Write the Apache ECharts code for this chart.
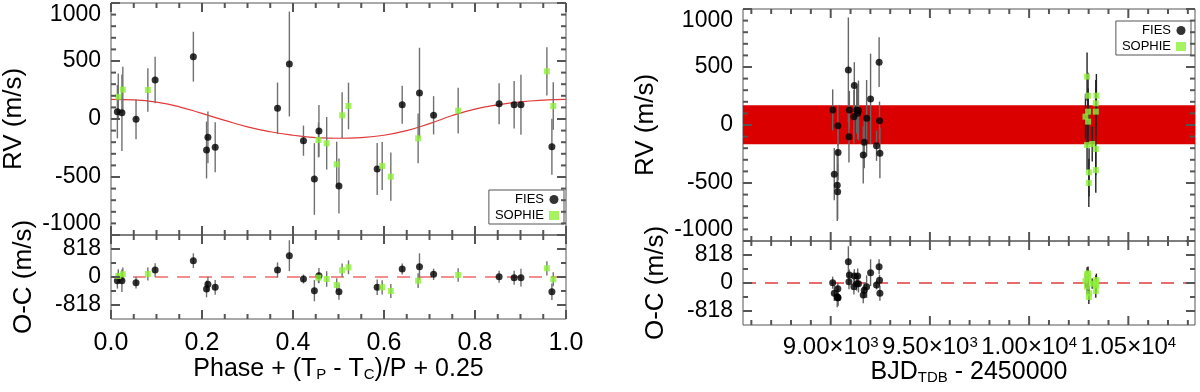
<!DOCTYPE html>
<html>
<head>
    <meta charset="utf-8">
    <title>RV fit</title>
    <style>
        html, body { margin: 0; padding: 0; background: #fff; }
        #container { width: 1200px; height: 392px; }
    </style>
</head>
<body>
<div id="container"></div>
<script src="https://cdn.jsdelivr.net/npm/echarts@6/dist/echarts.min.js"></script>
<script type="text/javascript">
    // ---- phase folded panel (left) ----
    var fiesPhase = [0.014, 0.024, 0.055, 0.097, 0.181, 0.210, 0.213, 0.229, 0.366, 0.392, 0.423,
                     0.447, 0.457, 0.501, 0.585, 0.640, 0.678, 0.709, 0.853, 0.886, 0.901, 0.969];
    var fiesRV    = [63, 54, -3, 336, 537, -267, -158, -244, 92, 474, -187,
                     -517, -103, -578, -431, 123, 224, 32, 132, 123, 123, -239];
    var fiesErr   = [230, 330, 172, 200, 215, 245, 223, 215, 222, 452, 130,
                     309, 223, 237, 225, 164, 390, 165, 177, 204, 258, 241];
    var fiesOC    = [-108, -108, -166, 204, 476, -350, -213, -301, 204, 622, -58,
                     -400, 38, -429, -301, 234, 301, 79, 9, -20, -20, -429];

    var sophiePhase = [0.016, 0.026, 0.081, 0.456, 0.474, 0.496, 0.508, 0.522, 0.596, 0.615, 0.675, 0.763, 0.958, 0.972];
    var sophieRV    = [192, 253, 250, -181, -209, -391, 32, 112, -405, -497, -167, 72, 411, 112];
    var sophieErr   = [200, 198, 187, 150, 227, 195, 198, 201, 207, 208, 215, 197, 208, 204];
    var sophieOC    = [29, 79, 88, -20, -58, -234, 196, 283, -301, -409, -108, 58, 254, -67];

    // model curve
    var modelPhase = [0, 0.05, 0.1, 0.15, 0.2, 0.25, 0.3, 0.35, 0.4, 0.45, 0.5,
                      0.55, 0.6, 0.65, 0.7, 0.75, 0.8, 0.85, 0.9, 0.95, 1.0];
    var modelRV    = [170, 165, 145, 105, 48, -12, -68, -110, -140, -160, -166,
                      -160, -140, -100, -40, 30, 85, 122, 148, 163, 170];

    // ---- time series panel (right) ----
    var fiesBJD  = [9010, 9018, 9033, 9035, 9036, 9037, 9089, 9094, 9092, 9119, 9117,
                    9131, 9136, 9140, 9164, 9169, 9181, 9201, 9231, 9244, 9246, 9248];
    var fiesRVt  = [130, -424, -519, -576, -6, -236, 475, 130, -101, 341, 71,
                    130, 101, 125, -259, -149, 58, 225, -179, 542, 37, -244];
    var fiesErrT = [177, 225, 309, 237, 172, 241, 452, 164, 223, 200, 230,
                    204, 222, 258, 245, 223, 330, 390, 130, 215, 165, 215];
    var fiesOCt  = [9, -301, -400, -429, -166, -429, 622, 234, 38, 204, -108,
                    -20, 204, -20, -350, -213, -108, 301, -58, 476, 79, -301];

    var sophieBJD  = [10292, 10297, 10339, 10336, 10297, 10336, 10284, 10297, 10292, 10318, 10336, 10302, 10336, 10301];
    var sophieRVt  = [417, 253, 253, 187, 115, 115, 72, 29, -173, -164, -207, -408, -389, -499];
    var sophieErrT = [208, 198, 187, 200, 201, 204, 197, 198, 215, 150, 227, 207, 195, 208];
    var sophieOCt  = [254, 79, 88, 29, 283, -67, 58, 196, -108, -20, -58, -301, -234, -409];

    var modelBand = [-165, 170];   // extent of the model curve, drawn as a band in time

    // ---- ticks ----
    var phaseTicks = [0, 0.2, 0.4, 0.6, 0.8, 1.0];
    var phaseMinor = [0.05, 0.1, 0.15, 0.25, 0.3, 0.35, 0.45, 0.5, 0.55, 0.65, 0.7, 0.75, 0.85, 0.9, 0.95];
    var rvTicks    = [-1000, -500, 0, 500, 1000];
    var rvMinor    = [-900, -800, -700, -600, -400, -300, -200, -100, 100, 200, 300, 400, 600, 700, 800, 900];
    var ocTicks    = [-818, 0, 818];
    var ocMinor    = [-409, 409];
    var bjdTicks   = [9000, 9500, 10000, 10500];
    var bjdMinor   = [8600, 8700, 8800, 8900, 9100, 9200, 9300, 9400, 9600, 9700, 9800, 9900,
                      10100, 10200, 10300, 10400, 10600, 10700, 10800];

    // axis ranges
    var phaseRange = [0, 1];
    var bjdRange   = [8558, 10836];
    var rvRange    = [-1000, 1000];
    var ocRange    = [-1227, 1227];

    var FONT = 'Liberation Sans, Arial, sans-serif';
    var FRAME = '#555';
    var TICK = '#555';

    var myChart = echarts.init(document.getElementById('container'));

    var grids = [
        {left: 111, top: 3, width: 455, height: 232},
        {left: 111, top: 235, width: 455, height: 84},
        {left: 743, top: 9, width: 452, height: 232},
        {left: 743, top: 241, width: 452, height: 84}
    ];
    grids.forEach(function (g) {
        g.show = true; g.borderColor = FRAME; g.borderWidth = 1; g.containLabel = false;
    });

    function axis(grid, pos, rng, extra) {
        var a = {
            type: 'value', gridIndex: grid, position: pos, min: rng[0], max: rng[1],
            axisLine: {show: false, onZero: false},
            axisTick: {show: false},
            splitLine: {show: false},
            axisLabel: {show: false}
        };
        for (var k in extra) a[k] = extra[k];
        return a;
    }

    function plain(v) { return String(v); }
    var yLabel = {show: true, customValues: rvTicks, margin: 10, color: '#000', fontFamily: FONT,
                  fontSize: 23, formatter: plain, showMinLabel: true, showMaxLabel: true,
                  verticalAlignMaxLabel: 'top', verticalAlignMinLabel: 'bottom'};
    var ocLabel = {show: true, customValues: ocTicks, margin: 10, color: '#000', fontFamily: FONT,
                   fontSize: 23, formatter: plain, showMinLabel: true, showMaxLabel: true};
    var phaseLabel = {show: true, customValues: phaseTicks, margin: 12, color: '#000', fontFamily: FONT,
                      fontSize: 25, showMinLabel: true, showMaxLabel: true,
                      formatter: function (v) { return v.toFixed(1); }};
    var bjdLabel = {show: true, customValues: bjdTicks, margin: 10, color: '#000',
                    fontFamily: FONT, fontSize: 24, showMinLabel: true, showMaxLabel: true,
                    formatter: function (v) {
                        var e = Math.floor(Math.log10(v));
                        return '{m|' + (v / Math.pow(10, e)).toFixed(2) + '×10}{e|' + e + '}';
                    },
                    rich: {m: {fontFamily: FONT, fontSize: 24, color: '#000'},
                           e: {fontFamily: FONT, fontSize: 15, color: '#000', verticalAlign: 'top'}}};

    function yName(text, gap) {
        return {name: text, nameLocation: 'middle', nameGap: gap,
                nameTextStyle: {fontFamily: FONT, fontSize: 26, color: '#000'}};
    }
    function xName(text, gap) {
        return {name: text, nameLocation: 'middle', nameGap: gap,
                nameTextStyle: {fontFamily: FONT, fontSize: 25, color: '#000',
                    rich: {s: {fontFamily: FONT, fontSize: 15, color: '#000', verticalAlign: 'bottom'}}}};
    }
    function withLabel(label, name) { name.axisLabel = label; return name; }

    var xAxes = [
        axis(0, 'bottom', phaseRange, {}),
        axis(1, 'bottom', phaseRange, withLabel(phaseLabel, xName('Phase + (T{s|P} - T{s|C})/P + 0.25', 38))),
        axis(2, 'bottom', bjdRange, {}),
        axis(3, 'bottom', bjdRange, withLabel(bjdLabel, xName('BJD{s|TDB} - 2450000', 34)))
    ];
    var yAxes = [
        axis(0, 'left', rvRange, withLabel(yLabel, yName('RV (m/s)', 84))),
        axis(1, 'left', ocRange, withLabel(ocLabel, yName('O-C (m/s)', 74))),
        axis(2, 'left', rvRange, withLabel(yLabel, yName('RV (m/s)', 84))),
        axis(3, 'left', ocRange, withLabel(ocLabel, yName('O-C (m/s)', 74)))
    ];

    // inward ticks on all four sides of a panel, placed through the panel's scales
    function tickLine(x1, y1, x2, y2) {
        return {type: 'line', shape: {x1: x1, y1: y1, x2: x2, y2: y2},
                style: {stroke: TICK, lineWidth: 2}};
    }
    function frameTicks(ai, xr, yr, xMaj, xMin, yMaj, yMin) {
        var xs = xMaj.map(function (v) { return [v, yr[0], 9]; })
            .concat(xMin.map(function (v) { return [v, yr[0], 5]; }));
        var ys = yMaj.map(function (v) { return [xr[0], v, 9]; })
            .concat(yMin.map(function (v) { return [xr[0], v, 5]; }));
        return [
            {type: 'custom', xAxisIndex: ai, yAxisIndex: ai, silent: true, clip: false, z: 5, data: xs,
             renderItem: function (params, api) {
                 var v = api.value(0), len = api.value(2);
                 var a = api.coord([v, yr[0]]), b = api.coord([v, yr[1]]);
                 return {type: 'group', children: [tickLine(a[0], a[1], a[0], a[1] - len),
                                                   tickLine(b[0], b[1], b[0], b[1] + len)]};
             }},
            {type: 'custom', xAxisIndex: ai, yAxisIndex: ai, silent: true, clip: false, z: 5, data: ys,
             renderItem: function (params, api) {
                 var v = api.value(1), len = api.value(2);
                 var a = api.coord([xr[0], v]), b = api.coord([xr[1], v]);
                 return {type: 'group', children: [tickLine(a[0], a[1], a[0] + len, a[1]),
                                                   tickLine(b[0], b[1], b[0] - len, b[1])]};
             }}
        ];
    }

    function zip3(a, b, c) {
        return a.map(function (v, i) { return [v, b[i], c[i]]; });
    }
    function errBars(ai, xs, ys, es, color) {
        return {
            type: 'custom', xAxisIndex: ai, yAxisIndex: ai, silent: true, clip: true, z: 3,
            data: zip3(xs, ys, es),
            renderItem: function (params, api) {
                var x = api.value(0), y = api.value(1), e = api.value(2);
                var p1 = api.coord([x, y - e]);
                var p2 = api.coord([x, y + e]);
                return {type: 'line', shape: {x1: p1[0], y1: p1[1], x2: p2[0], y2: p2[1]},
                        style: {stroke: color, lineWidth: 1.4}};
            }
        };
    }
    function points(name, ai, xs, ys) {
        var fies = name === 'FIES';
        return {
            name: name, type: 'scatter', xAxisIndex: ai, yAxisIndex: ai, z: 4,
            symbol: fies ? 'circle' : 'rect', symbolSize: fies ? 7 : 6,
            itemStyle: {color: fies ? '#000' : '#8ef03a'},
            data: xs.map(function (v, i) { return [v, ys[i]]; })
        };
    }
    // dashed zero line of the residual panels, spanning the full x range
    function zeroLine(ai, xr, color) {
        return {type: 'line', xAxisIndex: ai, yAxisIndex: ai, z: 1, silent: true,
                symbol: 'none', data: [[xr[0], 0], [xr[1], 0]],
                lineStyle: {color: color, type: [13, 9], width: 1.3}};
    }

    var series = [].concat(
        // left top
        {type: 'line', xAxisIndex: 0, yAxisIndex: 0, z: 2, silent: true, smooth: true,
         symbol: 'none', lineStyle: {color: '#e23a3a', width: 1.2},
         data: modelPhase.map(function (v, i) { return [v, modelRV[i]]; })},
        errBars(0, fiesPhase, fiesRV, fiesErr, '#707070'),
        errBars(0, sophiePhase, sophieRV, sophieErr, '#707070'),
        points('FIES', 0, fiesPhase, fiesRV),
        points('SOPHIE', 0, sophiePhase, sophieRV),
        frameTicks(0, phaseRange, rvRange, phaseTicks, phaseMinor, rvTicks, rvMinor),
        // left bottom
        zeroLine(1, phaseRange, '#ee6a6a'),
        errBars(1, fiesPhase, fiesOC, fiesErr, '#707070'),
        errBars(1, sophiePhase, sophieOC, sophieErr, '#707070'),
        points('FIES', 1, fiesPhase, fiesOC),
        points('SOPHIE', 1, sophiePhase, sophieOC),
        frameTicks(1, phaseRange, ocRange, phaseTicks, phaseMinor, ocTicks, ocMinor),
        // right top
        {type: 'line', xAxisIndex: 2, yAxisIndex: 2, data: [], z: 1, silent: true,
         markArea: {silent: true, itemStyle: {color: '#db0000'},
                    data: [[{yAxis: modelBand[0]}, {yAxis: modelBand[1]}]]}},
        errBars(2, fiesBJD, fiesRVt, fiesErrT, '#666'),
        points('FIES', 2, fiesBJD, fiesRVt),
        points('SOPHIE', 2, sophieBJD, sophieRVt),
        errBars(2, sophieBJD, sophieRVt, sophieErrT, '#222'),
        frameTicks(2, bjdRange, rvRange, bjdTicks, bjdMinor, rvTicks, rvMinor),
        // right bottom
        zeroLine(3, bjdRange, '#e03c3c'),
        errBars(3, fiesBJD, fiesOCt, fiesErrT, '#666'),
        points('FIES', 3, fiesBJD, fiesOCt),
        points('SOPHIE', 3, sophieBJD, sophieOCt),
        errBars(3, sophieBJD, sophieOCt, sophieErrT, '#222'),
        frameTicks(3, bjdRange, ocRange, bjdTicks, bjdMinor, ocTicks, ocMinor)
    );

    function legendBox(right, top) {
        return {
            data: ['FIES', 'SOPHIE'], orient: 'vertical', align: 'right',
            right: right, top: top, padding: [3, 5, 2, 6], itemGap: 3,
            itemWidth: 10, itemHeight: 9,
            borderColor: '#555', borderWidth: 1, backgroundColor: '#fff',
            selectedMode: false,
            textStyle: {fontFamily: FONT, fontSize: 13, color: '#000', padding: [0, 0, 0, 0]}
        };
    }

    var option = {
        animation: false,
        backgroundColor: '#fff',
        grid: grids,
        xAxis: xAxes,
        yAxis: yAxes,
        legend: [legendBox(1200 - 564, 190), legendBox(9, 21)],
        series: series
    };

    myChart.setOption(option);
</script>
</body>
</html>
